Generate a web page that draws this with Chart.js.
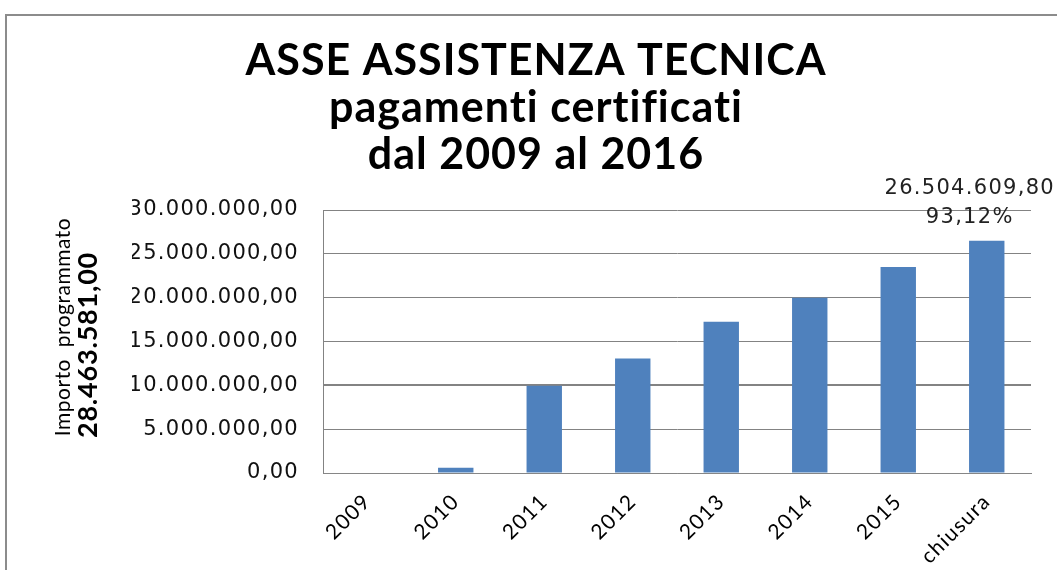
<!DOCTYPE html>
<html>
<head>
<meta charset="utf-8">
<script src="https://cdn.jsdelivr.net/npm/chart.js@4.4.0/dist/chart.umd.min.js"></script>
<style>
  html, body { margin: 0; padding: 0; background: #fff; overflow: hidden; }
  #frame { position: absolute; left: 5px; top: 14px; width: 2000px; height: 2000px;
           border-left: 2px solid #8c8c8c; border-top: 2px solid #8c8c8c; }
  #wrap { position: absolute; left: 0; top: 0; width: 1057px; height: 570px; }
</style>
</head>
<body>
<div id="frame"></div>
<div id="wrap"><canvas id="myChart"></canvas></div>
<script>
const categories = ['2009', '2010', '2011', '2012', '2013', '2014', '2015', 'chiusura'];
const pagamenti = [0, 600000, 9950000, 13050000, 17250000, 20000000, 23500000, 26504609.80];
const yTicks = [0, 5000000, 10000000, 15000000, 20000000, 25000000, 30000000];
const titleLines = ['ASSE ASSISTENZA TECNICA', 'pagamenti certificati', 'dal 2009 al 2016'];
const yTitle = ['Importo  programmato', '28.463.581,00'];
const lastLabel = ['26.504.609,80', '93,12%'];

// italian number format: 30.000.000,00
function fmt(n) {
  const parts = n.toFixed(2).split('.');
  return parts[0].replace(/\B(?=(\d{3})+(?!\d))/g, '.') + ',' + parts[1];
}

// the original text is a bit stretched sideways, so space the letters out
const spacing = {
  id: 'spacing',
  beforeDraw(chart) { chart.ctx.letterSpacing = '1.3px'; }
};

const extraText = {
  id: 'extraText',
  afterDraw(chart) {
    const ctx = chart.ctx;
    ctx.save();
    ctx.fillStyle = '#000';
    ctx.textAlign = 'center';
    ctx.textBaseline = 'middle';

    // title
    ctx.letterSpacing = '1px';
    ctx.font = 'bold 43px Lato';
    titleLines.forEach((t, i) => ctx.fillText(t, 536, 61 + i * 47));

    // y axis title, rotated
    ctx.save();
    ctx.translate(63, 327);
    ctx.rotate(-Math.PI / 2);
    ctx.letterSpacing = '0.5px';
    ctx.font = '21px Lato';
    ctx.fillText(yTitle[0], 0, 0);
    ctx.font = 'bold 27px Lato';
    ctx.letterSpacing = '0.8px';
    ctx.fillText(yTitle[1], -18, 25);
    ctx.restore();

    // label over the last bar
    const bar = chart.getDatasetMeta(0).data[pagamenti.length - 1];
    ctx.letterSpacing = '1.3px';
    ctx.font = '21px "DejaVu Sans"';
    ctx.fillStyle = '#222';
    ctx.fillText(lastLabel[0], bar.x - 17, bar.y - 52);
    ctx.fillText(lastLabel[1], bar.x - 17, bar.y - 23);
    ctx.restore();
  }
};

new Chart(document.getElementById('myChart'), {
  type: 'bar',
  data: {
    labels: categories,
    datasets: [{
      data: pagamenti,
      backgroundColor: '#4f81bd',
      categoryPercentage: 1,
      barPercentage: 0.4
    }]
  },
  options: {
    responsive: true,
    maintainAspectRatio: false,
    animation: false,
    layout: { padding: { left: 132, top: 210, right: 26, bottom: 0 } },
    plugins: {
      legend: { display: false },
      title: { display: false },
      tooltip: { enabled: false }
    },
    scales: {
      x: {
        grid: { display: false },
        border: { display: true, color: '#868686', width: 1 },
        ticks: {
          font: { family: 'Lato', size: 21 },
          color: '#000',
          maxRotation: 45,
          minRotation: 45,
          padding: 8
        },
        afterFit(scale) { scale.height = 97; }
      },
      y: {
        min: 0,
        max: 30000000,
        afterBuildTicks(scale) { scale.ticks = yTicks.map(v => ({ value: v })); },
        grid: {
          color: '#838383',
          lineWidth: c => (c.tick && c.tick.value === 10000000 ? 2 : 1),
          drawTicks: false
        },
        border: { display: true, color: '#838383', width: 1 },
        ticks: {
          font: { family: 'DejaVu Sans', size: 21 },
          color: '#111',
          padding: 24,
          callback: v => fmt(v)
        },
        afterFit(scale) { scale.width = 191; }
      }
    }
  },
  plugins: [spacing, extraText]
});
</script>
</body>
</html>
